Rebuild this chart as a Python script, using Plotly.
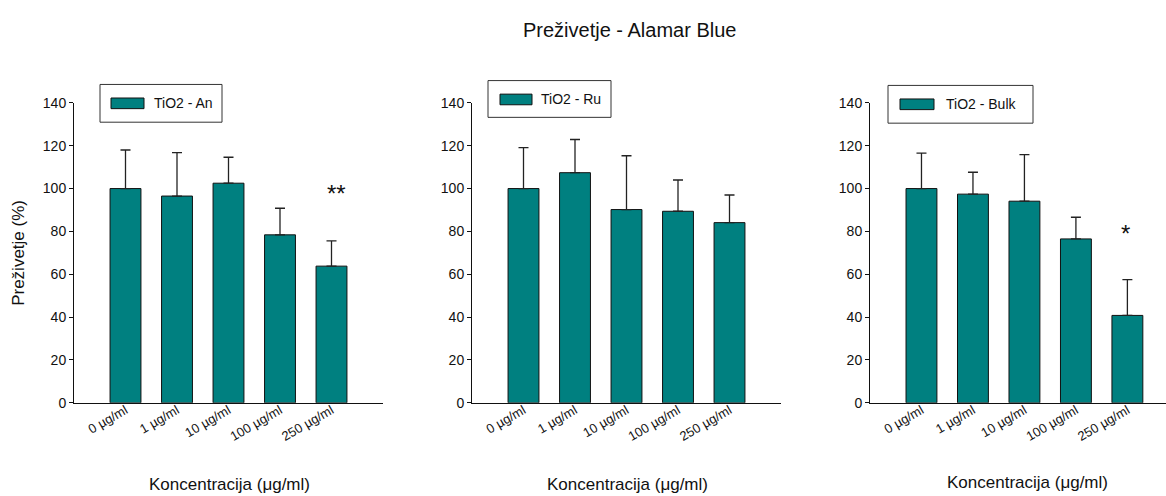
import plotly.graph_objects as go

W, H = 1166, 496

categories = ["0 µg/ml", "1 µg/ml", "10 µg/ml", "100 µg/ml", "250 µg/ml"]

an_mean = [100.0, 96.5, 102.5, 78.4, 63.8]
an_err = [18.0, 20.3, 12.1, 12.4, 11.8]

ru_mean = [100.0, 107.4, 90.2, 89.4, 84.1]
ru_err = [19.1, 15.5, 25.1, 14.6, 12.9]

bulk_mean = [100.0, 97.4, 94.1, 76.5, 40.8]
bulk_err = [16.5, 10.2, 21.7, 10.1, 16.7]

series_names = ["TiO2 - An", "TiO2 - Ru", "TiO2 - Bulk"]
significance = [["", "", "", "", "**"], ["", "", "", "", ""], ["", "", "", "", "*"]]
sig_y = [98, None, 79.6]

title_text = "Preživetje - Alamar Blue"
y_title = "Preživetje (%)"
x_title = "Koncentracija (μg/ml)"

FONT = "Liberation Sans, Arial, sans-serif"
TEAL = "#008080"


def px(x):
    return x / W


def py(y):
    return 1 - y / H


fig = go.Figure()

means = [an_mean, ru_mean, bulk_mean]
errs = [an_err, ru_err, bulk_err]
x_domains = [(74, 383), (472, 781), (870, 1166)]
x_ranges = [[-1, 5], [-1, 5], [-1, 4.75]]

for i in range(3):
    xa = "x" if i == 0 else f"x{i+1}"
    ya = "y" if i == 0 else f"y{i+1}"
    fig.add_trace(go.Bar(
        x=list(range(len(categories))), y=means[i],
        xaxis=xa, yaxis=ya, width=0.6,
        marker=dict(color=TEAL, line=dict(color="#111111", width=1)),
        error_y=dict(type="data", symmetric=False, array=errs[i],
                     arrayminus=[0] * len(errs[i]), color="#222222",
                     thickness=1.3, width=5),
        showlegend=False, name=series_names[i],
    ))
    axis_common = dict(showline=True, linecolor="#111111", linewidth=1,
                       showgrid=False, zeroline=False)
    fig.update_layout(**{
        ("xaxis" if i == 0 else f"xaxis{i+1}"): dict(
            domain=[px(x_domains[i][0]), px(x_domains[i][1])],
            range=x_ranges[i], anchor=ya,
            tickmode="array", tickvals=list(range(len(categories))),
            ticktext=categories, tickangle=-30, ticks="",
            ticklabelstandoff=-6,
            tickfont=dict(family=FONT, size=13, color="#111111"),
            **axis_common),
        ("yaxis" if i == 0 else f"yaxis{i+1}"): dict(
            domain=[py(408), py(98)], range=[0, 140], anchor=xa,
            tickmode="array", tickvals=[0, 20, 40, 60, 80, 100, 120, 140],
            ticks="outside", ticklen=4, tickcolor="#111111",
            tickfont=dict(family=FONT, size=14, color="#111111"),
            **axis_common),
    })
    # significance marks
    for j, s in enumerate(significance[i]):
        if s:
            fig.add_annotation(x=j, y=sig_y[i], xref=xa, yref=ya, text=s,
                               showarrow=False, xshift=5 if i == 0 else -2,
                               yanchor="middle", yshift=-1,
                               font=dict(family=FONT, size=24, color="#111111"))

# legend boxes drawn as shapes
legend_boxes = [(100, 79, 222, 118), (488, 75, 611, 113), (888, 80, 1033, 119)]
swatches = [(111, 93, 144, 104), (500, 89, 532, 100), (900, 94, 934, 105)]
text_pos = [(152, 98.5), (539, 94.5), (944, 99.5)]
for i in range(3):
    x0, y0, x1, y1 = legend_boxes[i]
    fig.add_shape(type="rect", xref="paper", yref="paper",
                  x0=px(x0), x1=px(x1), y0=py(y0), y1=py(y1),
                  line=dict(color="#333333", width=1), fillcolor="white")
    x0, y0, x1, y1 = swatches[i]
    fig.add_shape(type="rect", xref="paper", yref="paper",
                  x0=px(x0), x1=px(x1), y0=py(y0), y1=py(y1),
                  line=dict(color="#111111", width=1), fillcolor=TEAL)
    tx, ty = text_pos[i]
    fig.add_annotation(x=px(tx), y=py(ty), xref="paper", yref="paper",
                       text=series_names[i], showarrow=False,
                       xanchor="left", yanchor="middle",
                       font=dict(family=FONT, size=14, color="#111111"))

# titles
fig.add_annotation(x=px(629), y=py(23), xref="paper", yref="paper",
                   text=title_text, showarrow=False,
                   xanchor="center", yanchor="middle",
                   font=dict(family=FONT, size=20, color="#111111"))
fig.add_annotation(x=px(19), y=py(253), xref="paper", yref="paper",
                   text=y_title, showarrow=False, textangle=-90,
                   xanchor="center", yanchor="middle",
                   font=dict(family=FONT, size=17, color="#111111"))
for cx, cy in [(229, 492), (627, 492), (1027, 490)]:
    fig.add_annotation(x=px(cx), y=py(cy), xref="paper", yref="paper",
                       text=x_title, showarrow=False,
                       xanchor="center", yanchor="middle",
                       font=dict(family=FONT, size=17, color="#111111"))

fig.update_layout(width=W, height=H, margin=dict(l=0, r=0, t=0, b=0),
                  paper_bgcolor="white", plot_bgcolor="white",
                  bargap=0.4)

fig.write_html("out.html")
